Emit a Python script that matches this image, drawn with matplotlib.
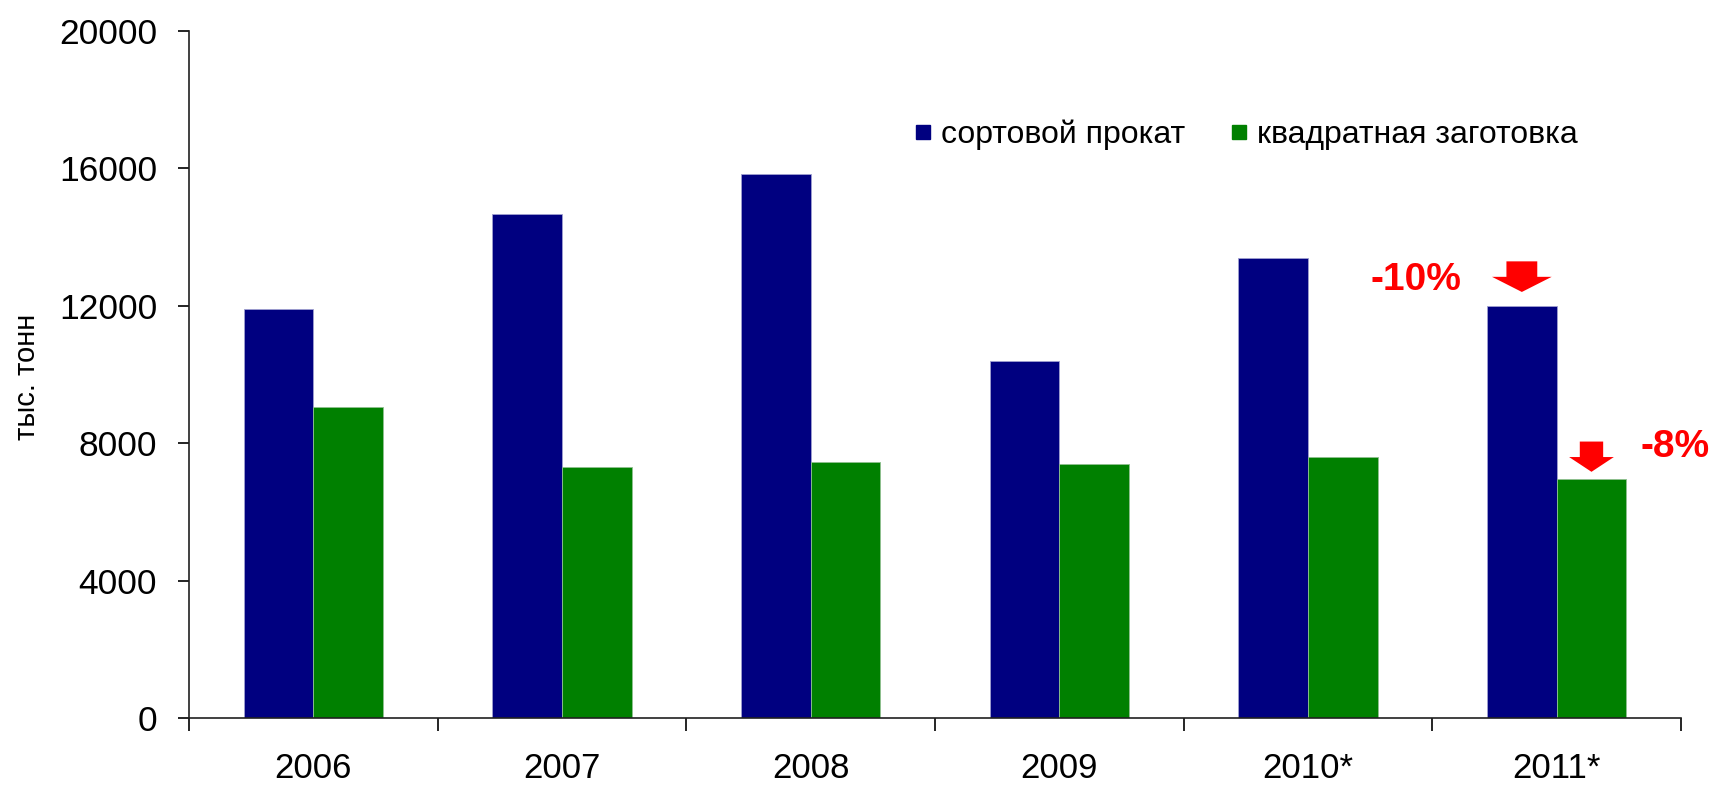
import matplotlib
matplotlib.use('Agg')
import matplotlib.pyplot as plt
from matplotlib.lines import Line2D
from matplotlib.patches import Polygon
import numpy as np

# data
years = ['2006', '2007', '2008', '2009', '2010*', '2011*']
sortovoy = [11900, 14670, 15840, 10380, 13400, 12000]
zagotovka = [9050, 7300, 7460, 7400, 7590, 6960]
series_names = ['сортовой прокат', 'квадратная заготовка']
changes = ['-10%', '-8%']

BLUE = '#000080'
GREEN = '#008000'
RED = '#ff0000'

plt.rcParams['font.family'] = ['Liberation Sans', 'DejaVu Sans']

W, H = 1712, 785
fig = plt.figure(figsize=(W / 100, H / 100), dpi=100)
ax = fig.add_axes([189 / W, 1 - 718.4 / H, (1681 - 189) / W, (718.4 - 30.6) / H])

x = np.arange(len(years))
w = 0.28
ax.bar(x - w / 2, sortovoy, w, color=BLUE, edgecolor='#a0a0d0', linewidth=0.6)
ax.bar(x + w / 2, zagotovka, w, color=GREEN, edgecolor='#90c090', linewidth=0.6)

ax.set_xlim(-0.5, len(years) - 0.5)
ax.set_ylim(0, 20000)
ax.set_yticks(range(0, 20001, 4000))
ax.set_xticks(x)
ax.set_xticklabels(years)
ax.set_xticks(np.arange(-0.5, len(years), 1), minor=True)

ax.tick_params(axis='x', which='major', length=0, pad=24, labelsize=25)
ax.tick_params(axis='x', which='minor', length=9, width=1.2, direction='out')
ax.tick_params(axis='y', length=8, width=1.2, pad=15, labelsize=25.5)

for side in ['top', 'right']:
    ax.spines[side].set_visible(False)
for side in ['left', 'bottom']:
    ax.spines[side].set_linewidth(1.2)
    ax.spines[side].set_color('#202020')

fig.text(27 / W, 1 - 377 / H, 'тыс. тонн', rotation=90, ha='center', va='center', fontsize=21)


def down_arrow(cx, tip, shaft_hw, head_hw, head_h, shaft_h):
    pts = [(cx - shaft_hw, tip + head_h + shaft_h), (cx + shaft_hw, tip + head_h + shaft_h),
           (cx + shaft_hw, tip + head_h), (cx + head_hw, tip + head_h), (cx, tip),
           (cx - head_hw, tip + head_h), (cx - shaft_hw, tip + head_h)]
    ax.add_patch(Polygon(pts, closed=True, color=RED, lw=0))


last = len(years) - 1
down_arrow(x[last] - w / 2, sortovoy[last] + 400, 0.062, 0.12, 440, 450)
down_arrow(x[last] + w / 2, zagotovka[last] + 210, 0.047, 0.09, 430, 450)

ax.text(x[last] - 0.566, 12750, changes[0], color=RED, fontsize=28, fontweight='bold',
        ha='center', va='center')
ax.text(x[last] + 0.476, 7900, changes[1], color=RED, fontsize=28, fontweight='bold',
        ha='center', va='center', clip_on=False)

handles = [Line2D([], [], ls='none', marker='s', markersize=10, color=BLUE),
           Line2D([], [], ls='none', marker='s', markersize=10, color=GREEN)]
fig.legend(handles, series_names, loc='center left', bbox_to_anchor=(915 / W, 1 - 135 / H),
           ncol=2, frameon=False, fontsize=23, handlelength=0.5, handletextpad=0.3,
           columnspacing=1.45, borderpad=0, borderaxespad=0)

fig.savefig('out.png', dpi=100)
